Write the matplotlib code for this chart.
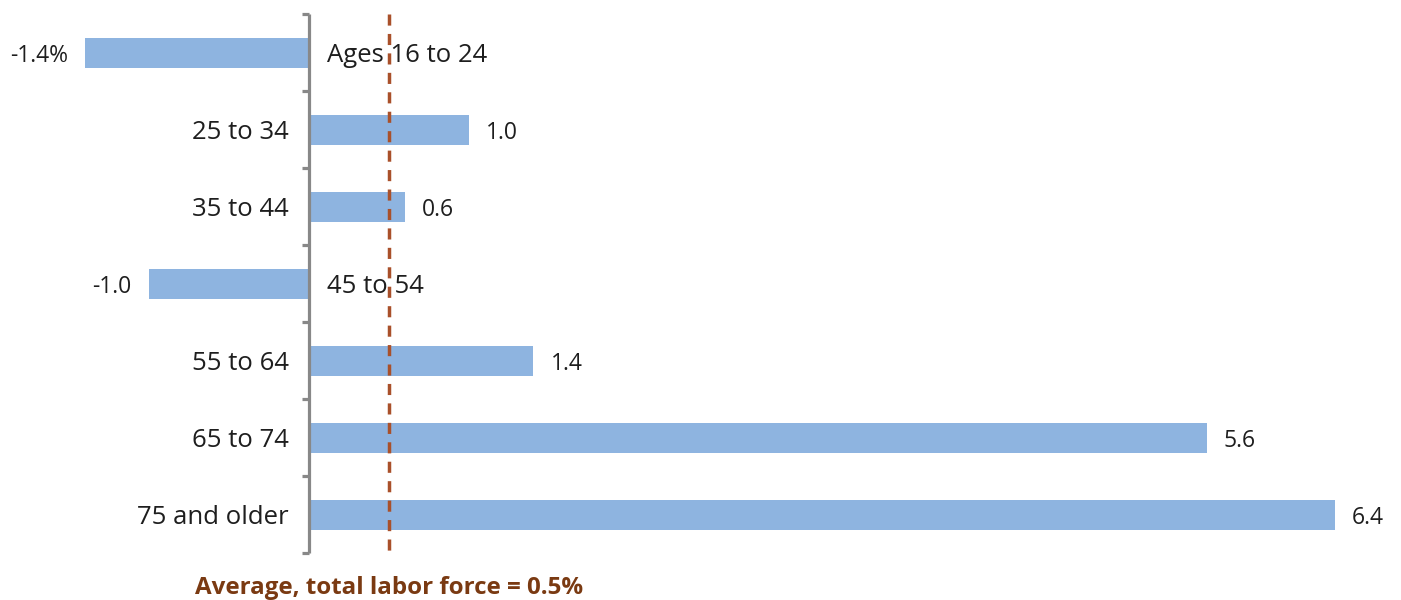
import matplotlib
matplotlib.use("Agg")
import matplotlib.pyplot as plt

plt.rcParams['font.family'] = ['Open Sans', 'DejaVu Sans']

categories = ["Ages 16 to 24", "25 to 34", "35 to 44", "45 to 54",
              "55 to 64", "65 to 74", "75 and older"]
values = [-1.4, 1.0, 0.6, -1.0, 1.4, 5.6, 6.4]
value_labels = ["-1.4%", "1.0", "0.6", "-1.0", "1.4", "5.6", "6.4"]
average = 0.5
average_label = "Average, total labor force = 0.5%"

bar_color = "#8EB4E0"
axis_color = "#888888"
avg_color = "#A9502A"
note_color = "#7A3A12"
text_color = "#1E1E1E"

fig = plt.figure(figsize=(14.01, 6.00), dpi=100)
ax = fig.add_axes([0, 0, 1, 1])
ax.set_xlim(-1.928, 6.812)
ax.set_ylim(7.104, -0.688)
ax.axis("off")

ypos = list(range(len(categories)))
ax.barh(ypos, values, height=0.39, color=bar_color, zorder=2)

# pixel-to-data helpers
px = (6.812 + 1.928) / 1401.0
py = (7.104 + 0.688) / 600.0
dy = 3 * py

for y, v, lab, cat in zip(ypos, values, value_labels, categories):
    if v >= 0:
        ax.text(v + 17 * px, y + dy, lab, ha="left", va="center",
                fontsize=16.5, color=text_color, zorder=4)
        ax.text(-20 * px, y + dy, cat, ha="right", va="center",
                fontsize=18.5, color=text_color, zorder=4)
    else:
        ax.text(v - 17 * px, y + dy, lab, ha="right", va="center",
                fontsize=16.5, color=text_color, zorder=4)
        ax.text(18 * px, y + dy, cat, ha="left", va="center",
                fontsize=18.5, color=text_color, zorder=4)

# vertical category axis with small ticks between categories
n = len(categories)
ax.plot([0, 0], [-0.5, n - 0.5], color=axis_color, lw=2.3, zorder=3,
        solid_capstyle="butt")
for t in [i - 0.5 for i in range(n + 1)]:
    ax.plot([-7 * px, 0], [t, t], color=axis_color, lw=2.3, zorder=3,
            solid_capstyle="butt")

# average reference line
ax.plot([average, average], [-0.5, n - 0.47], color=avg_color, lw=2.5,
        dashes=(3.2, 2.4), zorder=3)
ax.text(average, 6.95, average_label, ha="center", va="center",
        fontsize=17.4, fontweight="bold", color=note_color)

fig.savefig("out.png", dpi=100)
